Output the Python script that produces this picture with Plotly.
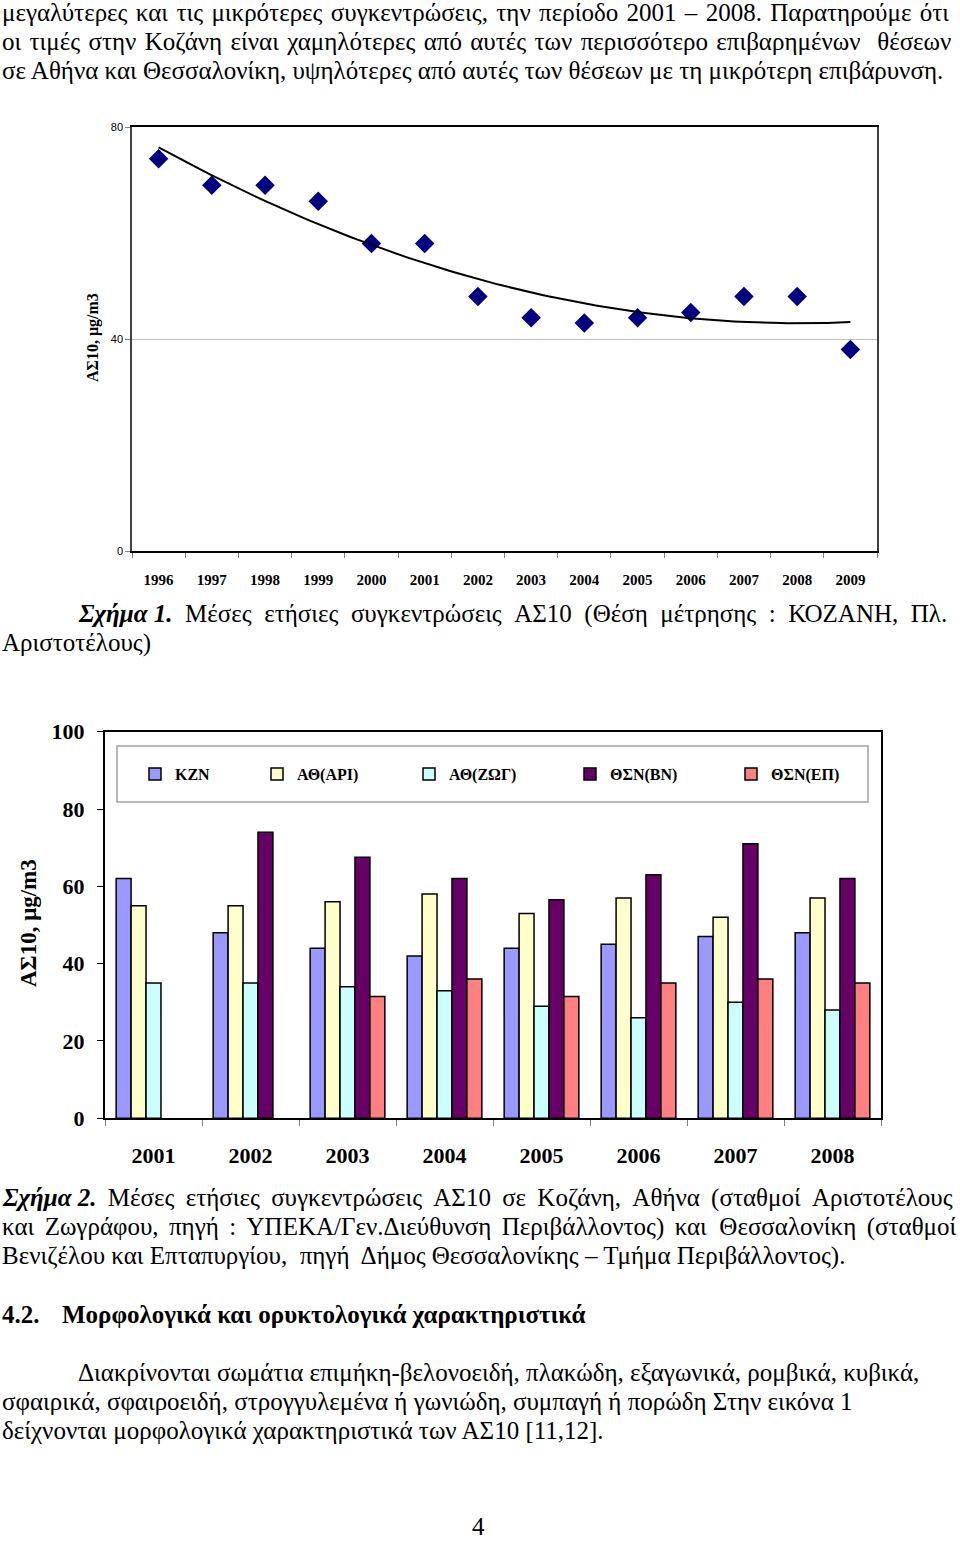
import numpy as np
import plotly.graph_objects as go

W, H = 960, 1543
SERIF = "Liberation Serif, Times New Roman, serif"
SANS = "Liberation Sans, Arial, sans-serif"

# ---------------- data ----------------
years1 = [1996, 1997, 1998, 1999, 2000, 2001, 2002, 2003, 2004, 2005, 2006, 2007, 2008, 2009]
kozani_pm10 = [74, 69, 69, 66, 58, 58, 48, 44, 43, 44, 45, 48, 48, 38]

years2 = ["2001", "2002", "2003", "2004", "2005", "2006", "2007", "2008"]
kzn = [62, 48, 44, 42, 44, 45, 47, 48]
ath_ari = [55, 55, 56, 58, 53, 57, 52, 57]
ath_zog = [35, 35, 34, 33, 29, 26, 30, 28]
thes_bn = [None, 74, 67.5, 62, 56.5, 63, 71, 62]
thes_ep = [None, None, 31.5, 36, 31.5, 35, 36, 35]

series2 = [
    ("ΚΖΝ", kzn, "#9999FF"),
    ("ΑΘ(ΑΡΙ)", ath_ari, "#FFFFCC"),
    ("ΑΘ(ΖΩΓ)", ath_zog, "#CCFFFF"),
    ("ΘΣΝ(ΒΝ)", thes_bn, "#660066"),
    ("ΘΣΝ(ΕΠ)", thes_ep, "#FF8080"),
]
legend_symbol_x = [158, 280, 432, 593, 754]


def px(x):
    return x / W


def py(y):
    return 1 - y / H


fig = go.Figure()

# ---------------- chart 1 ----------------
fig.add_trace(go.Scatter(
    x=years1, y=kozani_pm10, mode="markers",
    marker=dict(symbol="diamond", size=15, color="#000080"),
    xaxis="x", yaxis="y", showlegend=False))

# polynomial (2nd order) trendline fitted to the data
t = np.array(years1) - years1[0]
coef = np.polyfit(t, kozani_pm10, 2)
tt = np.linspace(t[0], t[-1], 120)
fig.add_trace(go.Scatter(
    x=tt + years1[0], y=np.polyval(coef, tt), mode="lines",
    line=dict(color="black", width=2),
    xaxis="x", yaxis="y", showlegend=False))

# ---------------- chart 2 ----------------
for i, (name, vals, col) in enumerate(series2):
    fig.add_trace(go.Bar(
        x=years2, y=vals, name=name,
        marker=dict(color=col, line=dict(color="black", width=1.5)),
        xaxis="x2", yaxis="y2",
        legend="legend" if i == 0 else f"legend{i+1}"))

layout = dict(
    width=W, height=H,
    margin=dict(l=0, r=0, t=0, b=0, autoexpand=False),
    paper_bgcolor="white", plot_bgcolor="white",
    barmode="group", bargap=0.23, bargroupgap=0,
    xaxis=dict(
        domain=[px(132), px(877)], range=[1995.5, 2009.5],
        tickmode="array", tickvals=years1, ticktext=[str(y) for y in years1],
        ticks="", showgrid=False, zeroline=False,
        showline=True, linecolor="black", linewidth=2, mirror=True,
        tickfont=dict(family=SERIF, size=15, color="black", weight="bold"),
        ticklabelstandoff=14,
        minor=dict(tickmode="array", tickvals=[y - 0.5 for y in years1] + [years1[-1] + 0.5],
                   ticks="outside", ticklen=5, tickcolor="#808080", showgrid=False),
        anchor="y"),
    yaxis=dict(
        domain=[py(551), py(127)], range=[0, 80],
        tickmode="array", tickvals=[0, 40, 80],
        ticks="outside", ticklen=5, tickcolor="#808080",
        showgrid=True, gridcolor="#c0c0c0", gridwidth=1.2, zeroline=False,
        showline=True, linecolor="#404040", linewidth=1.5, mirror=True,
        tickfont=dict(family=SANS, size=11, color="black"),
        anchor="x"),
    xaxis2=dict(
        domain=[px(105), px(881)], type="category",
        tickson="boundaries", ticks="outside", ticklen=6, tickcolor="#808080",
        showgrid=False, zeroline=False,
        showline=True, linecolor="black", linewidth=2, mirror=True,
        tickfont=dict(family=SERIF, size=22, color="black", weight="bold"),
        ticklabelstandoff=16,
        anchor="y2"),
    yaxis2=dict(
        domain=[py(1118.3), py(731.7)], range=[0, 100],
        tickmode="array", tickvals=[0, 20, 40, 60, 80, 100],
        ticks="outside", ticklen=6, tickcolor="black",
        showgrid=False, zeroline=False,
        showline=True, linecolor="black", linewidth=2, mirror=True,
        tickfont=dict(family=SERIF, size=22, color="black", weight="bold"),
        ticklabelstandoff=8,
        anchor="x2"),
)

for i, sx in enumerate(legend_symbol_x):
    key = "legend" if i == 0 else f"legend{i+1}"
    layout[key] = dict(
        x=px(sx - 23), y=py(774), xanchor="left", yanchor="middle",
        orientation="h", bgcolor="rgba(0,0,0,0)", borderwidth=0,
        itemwidth=30,
        font=dict(family=SERIF, size=16, color="black", weight="bold"))

fig.update_layout(**layout)

fig.add_shape(type="rect", xref="paper", yref="paper",
              x0=px(117), x1=px(868), y0=py(802), y1=py(746),
              line=dict(color="#a0a0a0", width=1.5))

# ---------------- texts ----------------
ann = []
BODY = 25
HAIR, THIN, FOUR = "\u200a", "\u2009", "\u2005"


def just(s, extra, skip_double=False):
    """Widen inter-word gaps a little to imitate justified text."""
    if skip_double:
        return s.replace("  ", "\0").replace(" ", " " + extra).replace("\0", "  ")
    return s.replace(" ", " " + extra)


def txt(x, y, s, size=BODY, anchor="left", angle=0, family=SERIF):
    ann.append(dict(x=px(x), y=py(y), xref="paper", yref="paper", text=s,
                    showarrow=False, xanchor=anchor, yanchor="middle",
                    textangle=angle,
                    font=dict(family=family, size=size, color="black")))


txt(0, 12, just("μεγαλύτερες και τις μικρότερες συγκεντρώσεις, την περίοδο 2001 – 2008. Παρατηρούμε ότι", HAIR))
txt(0, 41, just("οι τιμές στην Κοζάνη είναι χαμηλότερες από αυτές των περισσότερο επιβαρημένων  θέσεων", HAIR))
txt(0, 70, "σε Αθήνα και Θεσσαλονίκη, υψηλότερες από αυτές των θέσεων με τη μικρότερη επιβάρυνση.")

txt(93, 338, "<b>ΑΣ10, μg/m3</b>", size=16, anchor="center", angle=-90)
txt(28, 923, "<b>ΑΣ10, μg/m3</b>", size=23, anchor="center", angle=-90)

txt(76, 614, just("<b><i>Σχήμα 1.</i></b> Μέσες ετήσιες συγκεντρώσεις ΑΣ10 (Θέση μέτρησης : ΚΟΖΑΝΗ, Πλ.", FOUR)
    .replace("<b><i>Σχήμα " + FOUR, "<b><i>Σχήμα "))
txt(0, 643, "Αριστοτέλους)")

txt(0, 1198, just("<b><i>Σχήμα 2.</i></b> Μέσες ετήσιες συγκεντρώσεις ΑΣ10 σε Κοζάνη, Αθήνα (σταθμοί Αριστοτέλους", THIN)
    .replace("<b><i>Σχήμα " + THIN, "<b><i>Σχήμα "))
txt(0, 1227, just("και Ζωγράφου, πηγή : ΥΠΕΚΑ/Γεν.Διεύθυνση Περιβάλλοντος) και  Θεσσαλονίκη (σταθμοί",
                  HAIR + HAIR, skip_double=True))
txt(0, 1256, "Βενιζέλου και Επταπυργίου,  πηγή  Δήμος Θεσσαλονίκης – Τμήμα Περιβάλλοντος).")

txt(0, 1314, "<b>4.2.</b>")
txt(60, 1314, "<b>Μορφολογικά και ορυκτολογικά χαρακτηριστικά</b>")

txt(76, 1372, "Διακρίνονται σωμάτια επιμήκη-βελονοειδή, πλακώδη, εξαγωνικά, ρομβικά, κυβικά,")
txt(0, 1401, "σφαιρικά, σφαιροειδή, στρογγυλεμένα ή γωνιώδη, συμπαγή ή πορώδη Στην εικόνα 1")
txt(0, 1430, "δείχνονται μορφολογικά χαρακτηριστικά των ΑΣ10 [11,12].")

txt(478, 1526, "4", anchor="center")

fig.update_layout(annotations=ann)

fig.write_html("out.html")
